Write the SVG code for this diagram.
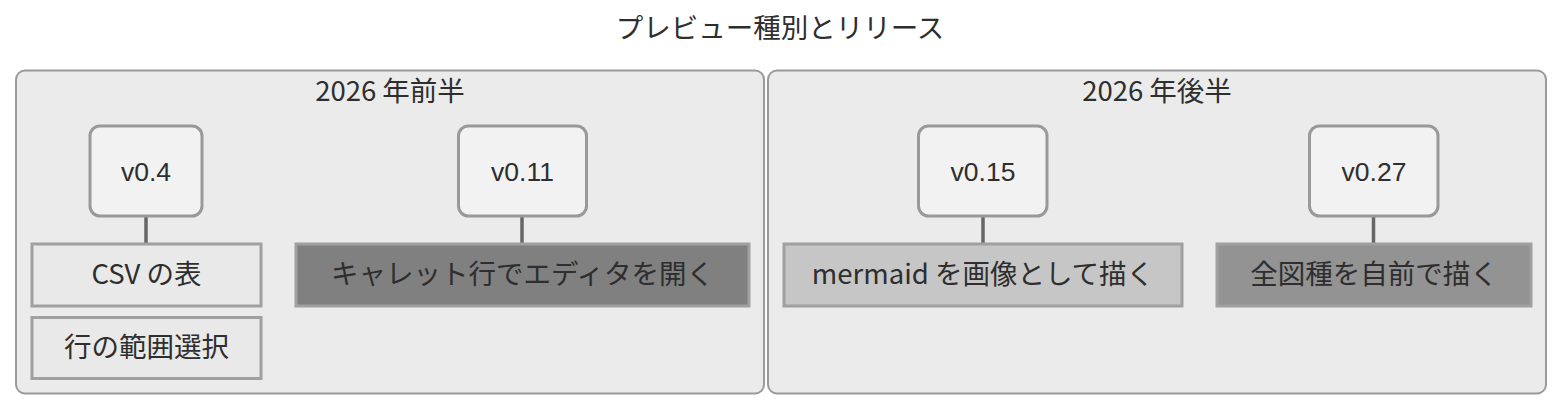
<svg xmlns="http://www.w3.org/2000/svg" width="1563" height="411" viewBox="0 0 1563 411">
<style>
  .bg { fill: #ffffff; }
  .section { fill: #ebebeb; stroke: #9a9a9a; stroke-width: 2; }
  .ver { fill: #f2f2f2; stroke: #999999; stroke-width: 3; }
  .item { stroke: #a0a0a0; stroke-width: 3; }
  .conn { stroke: #666666; stroke-width: 3.5; fill: none; }
  .cjk { font-family: "Noto Sans CJK JP", "Noto Sans", sans-serif; font-size: 27.5px; fill: #2e2e2e; text-anchor: middle; }
  .lat { font-family: "Liberation Sans", Arial, sans-serif; font-size: 26.5px; fill: #2e2e2e; text-anchor: middle; }
</style>
<rect class="bg" x="0" y="0" width="1563" height="411"/>
<text id="title" class="cjk" x="780" y="38">プレビュー種別とリリース</text>

<g id="section-2026-h1">
  <rect class="section" x="16" y="70.5" width="748" height="323" rx="9"/>
  <text class="cjk" x="390" y="101">2026 年前半</text>
</g>
<g id="section-2026-h2">
  <rect class="section" x="768" y="70.5" width="778" height="323" rx="9"/>
  <text class="cjk" x="1157" y="101">2026 年後半</text>
</g>

<g id="connectors">
  <line class="conn" x1="146" y1="216" x2="146" y2="243"/>
  <line class="conn" x1="522" y1="216" x2="522" y2="243"/>
  <line class="conn" x1="983" y1="216" x2="983" y2="243"/>
  <line class="conn" x1="1373.5" y1="216" x2="1373.5" y2="243"/>
</g>

<g id="v0-4">
  <rect class="ver" x="90" y="126" width="112" height="90" rx="10"/>
  <text class="lat" x="146" y="181">v0.4</text>
</g>
<g id="v0-11">
  <rect class="ver" x="458.5" y="126" width="128" height="90" rx="10"/>
  <text class="lat" x="522.5" y="181">v0.11</text>
</g>
<g id="v0-15">
  <rect class="ver" x="918.5" y="126" width="128.5" height="90" rx="10"/>
  <text class="lat" x="983" y="181">v0.15</text>
</g>
<g id="v0-27">
  <rect class="ver" x="1309.5" y="126" width="128.5" height="90" rx="10"/>
  <text class="lat" x="1374" y="181">v0.27</text>
</g>

<g id="item-csv">
  <rect class="item" x="32" y="244" width="229" height="62" fill="#e9e9e9"/>
  <text class="cjk" x="146.5" y="284">CSV の表</text>
</g>
<g id="item-range">
  <rect class="item" x="32" y="317.5" width="229" height="61" fill="#e9e9e9"/>
  <text class="cjk" x="146.5" y="357">行の範囲選択</text>
</g>
<g id="item-caret">
  <rect class="item" x="296" y="244" width="453" height="62" fill="#808080"/>
  <text class="cjk" x="522.5" y="284">キャレット行でエディタを開く</text>
</g>
<g id="item-mermaid">
  <rect class="item" x="784" y="244" width="398" height="62" fill="#c6c6c6"/>
  <text class="cjk" x="983" y="284">mermaid を画像として描く</text>
</g>
<g id="item-all">
  <rect class="item" x="1217" y="244" width="314" height="62" fill="#939393"/>
  <text class="cjk" x="1374" y="284">全図種を自前で描く</text>
</g>
</svg>
